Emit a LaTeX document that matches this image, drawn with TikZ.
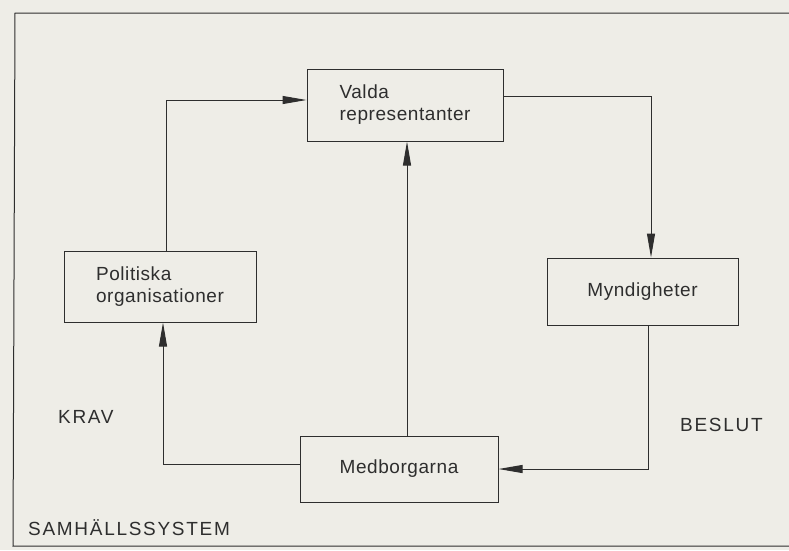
\documentclass[tikz,border=0pt]{standalone}
\usepackage{fontspec}
\setmainfont[LetterSpace=3]{Liberation Sans}
\newfontfamily\capsfont[LetterSpace=9]{Liberation Sans}
\usetikzlibrary{arrows.meta}
\definecolor{paper}{HTML}{EEEDE7}
\definecolor{ink}{HTML}{2E2E2E}
\tikzset{
  box/.style={draw=ink, line width=1pt, rectangle, inner sep=0pt, text=ink, align=left,
    font=\fontsize{19}{22}\selectfont},
  lab/.style={text=ink, inner sep=0pt, font=\capsfont\fontsize{19}{22}\selectfont},
  conn/.style={draw=ink, line width=1pt},
  arr/.style={conn, -{Triangle[length=24pt,width=8pt]}},
}
\begin{document}
\begin{tikzpicture}[x=1pt,y=-1pt]
\useasboundingbox (0,0) rectangle (789,550);
\fill[paper] (0,0) rectangle (789,550);
% outer frame
\draw[conn] (800,13) -- (15,13) -- (13,546) -- (800,546);
% boxes
\node[box, minimum width=196pt, minimum height=72pt] (valda) at (405,105) {Valda\\representanter};
\node[box, minimum width=192pt, minimum height=71pt] (pol) at (160,286.5) {Politiska\\organisationer};
\node[box, minimum width=191pt, minimum height=67pt] (myn) at (642.5,291.5) {Myndigheter};
\node[box, minimum width=198pt, minimum height=66pt] (med) at (399,469) {Medborgarna};
% labels
\node[lab, anchor=west] (krav) at (58,417) {KRAV};
\node[lab, anchor=west] (beslut) at (680,425) {BESLUT};
\node[lab, anchor=west] (samh) at (28,528) {SAMHÄLLSSYSTEM};
% connectors
\draw[arr] (pol.north -| 166,0) |- (valda.west |- 0,100);
\draw[arr] (med.north -| 407,0) -- (valda.south -| 407,0);
\draw[arr] (valda.east |- 0,96) -| (myn.north -| 651,0);
\draw[arr] (myn.south -| 648,0) |- (med.east |- 0,469);
\draw[arr] (med.west |- 0,464) -| (pol.south -| 163,0);
\end{tikzpicture}
\end{document}
